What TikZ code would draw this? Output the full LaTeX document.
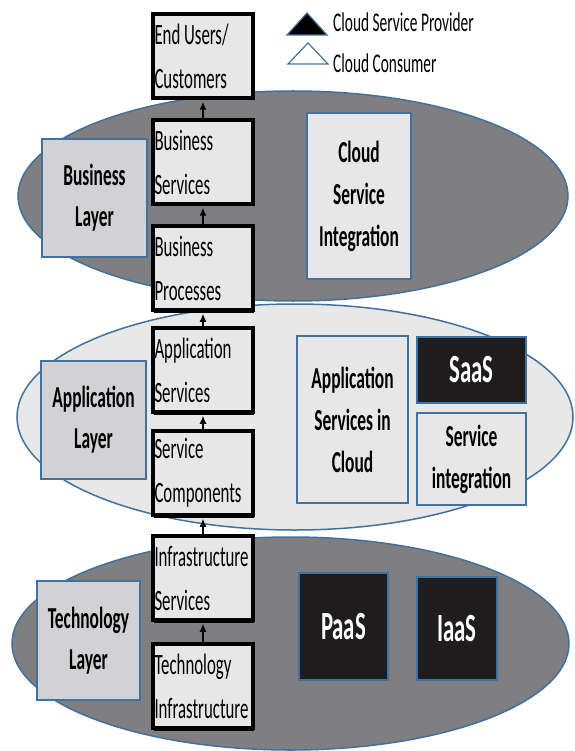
\documentclass[tikz,border=0pt]{standalone}
\usepackage{fontspec}
\setmainfont{Carlito}[FakeStretch=0.57]
\usetikzlibrary{arrows.meta,shadows}
\definecolor{ellgray}{RGB}{127,127,129}
\definecolor{elllight}{RGB}{232,232,232}
\definecolor{edgeblue}{RGB}{65,113,156}
\definecolor{boxgray}{RGB}{231,231,231}
\definecolor{layergray}{RGB}{210,210,212}
\definecolor{boxblack}{RGB}{30,28,29}
\begin{document}
\begin{tikzpicture}[x=1pt,y=1pt]
  \tikzstyle{every node}+=[inner sep=0pt]
  \tikzstyle{colbox}=[draw=black, line width=3.5pt, fill=boxgray, minimum width=100pt, minimum height=84pt, text width=97pt, align=flush left, font={\fontsize{29.5}{44}\selectfont\hyphenpenalty=10000}, drop shadow={shadow xshift=0.8pt, shadow yshift=-2.5pt, fill=black, opacity=1}]
  \tikzstyle{layerbox}=[draw=edgeblue, line width=1.2pt, fill=layergray, align=center, font=\bfseries\fontsize{30.5}{41}\selectfont]
  \tikzstyle{cloudbox}=[draw=edgeblue, line width=1.2pt, fill=boxgray, align=flush center, font={\bfseries\fontsize{30.5}{42}\selectfont}]
  \tikzstyle{darkbox}=[draw=edgeblue, line width=1.2pt, fill=boxblack, text=white, font=\bfseries\fontsize{40}{44}\selectfont]
  \tikzstyle{legend}=[font={\fontsize{27}{30}\selectfont}]
  \tikzstyle{uparr}=[-{Latex[length=8pt,width=7pt]}, line width=1.3pt, shorten >=2pt]
  \useasboundingbox (0,0) rectangle (574,-751);
  \draw [draw=edgeblue, line width=1.5pt, fill=ellgray] (293,-196) ellipse (275 and 105);
  \draw [draw=edgeblue, line width=1.5pt, fill=elllight] (295,-417) ellipse (278 and 113);
  \draw [draw=edgeblue, line width=1.5pt, fill=ellgray] (290.5,-643.5) ellipse (278.5 and 106.5);
  \node [colbox] (cust) at (203,-56) {End Users/\\Customers};
  \node [colbox] (bsvc) at (203,-162) {Business\\Services};
  \node [colbox] (bproc) at (203,-268) {Business\\Processes};
  \node [colbox] (asvc) at (203,-370) {Application\\Services};
  \node [colbox] (scomp) at (203,-473) {Service\\Components};
  \node [colbox] (isvc) at (203,-578) {Infrastructure\\Services};
  \node [colbox] (tinf) at (203,-686) {Technology\\Infrastructure};
  \draw [uparr] (bsvc.north) -- (cust.south);
  \draw [uparr] (bproc.north) -- (bsvc.south);
  \draw [uparr] (asvc.north) -- (bproc.south);
  \draw [uparr] (scomp.north) -- (asvc.south);
  \draw [uparr] (isvc.north) -- (scomp.south);
  \draw [uparr] (tinf.north) -- (isvc.south);
  \node [layerbox, minimum width=105pt, minimum height=118pt] (blayer) at (94.5,-198) {Business\\Layer};
  \node [layerbox, minimum width=105pt, minimum height=118pt] (alayer) at (93.5,-420) {Application\\Layer};
  \node [layerbox, minimum width=103pt, minimum height=119pt] (tlayer) at (88.5,-640.5) {Technology\\Layer};
  \node [cloudbox, minimum width=104pt, minimum height=166pt] (csi) at (359,-196) {Cloud\\Service\\Integration};
  \node [cloudbox, minimum width=111pt, minimum height=167pt] (asic) at (352.5,-419.5) {Application\\Services in\\Cloud};
  \node [cloudbox, minimum width=109pt, minimum height=92pt] (sint) at (471.5,-459) {Service\\integration};
  \node [darkbox, minimum width=109pt, minimum height=66pt] (saas) at (471.5,-370) {SaaS};
  \node [darkbox, minimum width=89pt, minimum height=107pt] (paas) at (343.5,-626.5) {PaaS};
  \node [darkbox, minimum width=80pt, minimum height=103pt] (iaas) at (457,-628.5) {IaaS};
  \draw [draw=edgeblue, line width=1.2pt, fill=black] (307,-13) -- (327,-35) -- (287,-35) -- cycle;
  \draw [draw=edgeblue, line width=1.2pt, fill=white] (308,-43) -- (328,-64) -- (288,-64) -- cycle;
  \node [legend, anchor=base west] (prov) at (333,-32) {Cloud Service Provider};
  \node [legend, anchor=base west] (cons) at (333,-73) {Cloud Consumer};
\end{tikzpicture}
\end{document}
